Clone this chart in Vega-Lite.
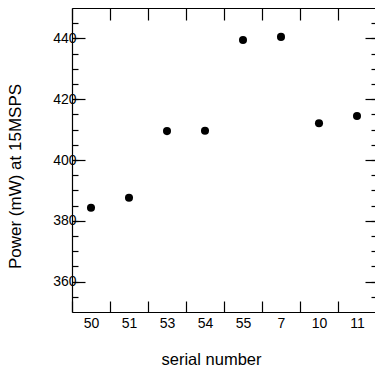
{
  "$schema": "https://vega.github.io/schema/vega-lite/v6.json",
  "width": 304,
  "height": 304,
  "autosize": {"type": "none"},
  "padding": {"left": 72, "top": 8, "right": 0, "bottom": 57},
  "background": "white",
  "config": {
    "view": {"stroke": null},
    "font": "Liberation Sans",
    "axis": {"domainColor": "black", "tickColor": "black", "labelColor": "black", "titleColor": "black", "grid": false, "domainWidth": 1.2, "tickWidth": 1.2, "labelFont": "Liberation Sans", "titleFont": "Liberation Sans", "titleFontWeight": "normal", "labelFontSize": 14, "titleFontSize": 16.5}
  },
  "data": {
    "values": [
      {"serial": "50", "power": 384.3},
      {"serial": "51", "power": 387.6},
      {"serial": "53", "power": 409.5},
      {"serial": "54", "power": 409.6},
      {"serial": "55", "power": 439.5},
      {"serial": "7", "power": 440.5},
      {"serial": "10", "power": 412.1},
      {"serial": "11", "power": 414.5}
    ]
  },
  "resolve": {"axis": {"x": "independent", "y": "independent"}},
  "layer": [
    {
      "mark": {"type": "point", "filled": true, "color": "black", "opacity": 1, "size": 65},
      "encoding": {
        "x": {"field": "serial", "type": "nominal", "sort": null,
              "scale": {"type": "band", "paddingInner": 0, "paddingOuter": 0},
              "axis": {"orient": "bottom", "title": "serial number", "labelAngle": 0, "tickBand": "extent", "tickSize": -11, "labelPadding": 15, "titlePadding": 21, "titleX": 139}},
        "y": {"field": "power", "type": "quantitative",
              "scale": {"domain": [350, 450], "nice": false, "zero": false},
              "axis": {"orient": "left", "title": "Power (mW) at 15MSPS", "values": [360, 380, 400, 420, 440], "tickSize": -13, "labelPadding": 9, "titlePadding": 28, "titleFontSize": 17, "titleY": 168}}
      }
    },
    {
      "mark": {"type": "point", "opacity": 0},
      "encoding": {
        "x": {"field": "serial", "type": "nominal", "sort": null,
              "axis": {"orient": "top", "title": null, "labels": false, "tickBand": "extent", "tickSize": -12}},
        "y": {"field": "power", "type": "quantitative",
              "axis": {"orient": "right", "title": null, "labels": false, "values": [360, 380, 400, 420, 440], "tickSize": -11}}
      }
    },
    {
      "mark": {"type": "point", "opacity": 0},
      "encoding": {
        "x": {"field": "serial", "type": "nominal", "sort": null, "axis": null},
        "y": {"field": "power", "type": "quantitative",
              "axis": {"orient": "left", "title": null, "labels": false, "domain": false, "values": [355, 360, 365, 370, 375, 380, 385, 390, 395, 400, 405, 410, 415, 420, 425, 430, 435, 440, 445], "tickSize": -6}}
      }
    },
    {
      "mark": {"type": "point", "opacity": 0},
      "encoding": {
        "x": {"field": "serial", "type": "nominal", "sort": null, "axis": null},
        "y": {"field": "power", "type": "quantitative",
              "axis": {"orient": "right", "title": null, "labels": false, "domain": false, "values": [355, 360, 365, 370, 375, 380, 385, 390, 395, 400, 405, 410, 415, 420, 425, 430, 435, 440, 445], "tickSize": -5}}
      }
    }
  ]
}
